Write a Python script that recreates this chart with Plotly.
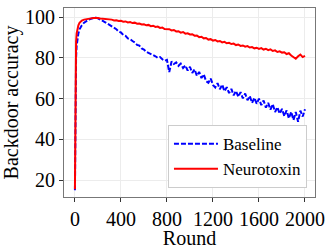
import plotly.graph_objects as go

rounds = [0, 3, 6, 10, 15, 20, 30, 40, 50, 60, 80] + list(range(100, 2001, 20))

neurotoxin = [15.5, 55, 80, 88, 92, 94, 96, 97.2, 97.8, 98.3, 98.8,
    99.1, 99.3, 99.4, 99.6, 99.7, 99.6, 99.4, 99.3, 99.0, 98.9,
    98.7, 98.8, 98.4, 98.5, 98.1, 98.2, 97.8, 97.9, 97.4, 97.6,
    97.1, 97.3, 96.8, 96.9, 96.4, 96.5, 96.0, 96.2, 95.6, 95.8,
    95.2, 95.4, 94.7, 94.9, 94.2, 94.0, 94.1, 93.5, 93.7, 93.0,
    93.1, 92.4, 92.7, 91.9, 92.1, 91.5, 91.6, 90.9, 91.0, 90.2,
    90.4, 89.6, 89.8, 89.0, 89.2, 88.5, 88.8, 88.1, 88.3, 87.6,
    87.9, 87.2, 87.4, 86.8, 87.0, 86.3, 86.6, 85.9, 86.1, 85.5,
    85.8, 85.1, 85.3, 84.7, 85.0, 84.4, 84.8, 84.1, 84.5, 83.8,
    84.2, 83.4, 83.7, 82.9, 83.2, 82.6, 82.8, 81.9, 82.3, 81.2,
    80.3, 79.6, 80.8, 81.6, 80.4, 81.0]

baseline = [15, 40, 68, 80, 86, 89, 92, 94, 95.2, 96, 97.3,
    98.2, 98.8, 99.2, 99.5, 99.8, 99.4, 98.9, 98.2, 97.6, 96.9,
    96.2, 95.6, 94.5, 94.1, 92.9, 92.5, 91.3, 90.8, 89.6, 89.2,
    88.3, 87.6, 86.4, 86.0, 84.6, 84.1, 83.0, 82.5, 82.0, 81.1,
    80.8, 80.0, 80.4, 79.3, 78.6, 79.0, 73.0, 78.2, 77.0, 77.8,
    76.1, 77.2, 75.0, 76.3, 73.8, 75.6, 72.6, 74.4, 71.2, 73.1,
    70.1, 71.9, 68.6, 67.8, 69.9, 66.7, 65.5, 67.6, 64.6, 66.9,
    63.6, 65.6, 62.7, 64.8, 61.6, 63.8, 60.9, 63.2, 60.1, 62.5,
    59.2, 61.3, 57.9, 60.4, 57.5, 60.0, 56.8, 59.1, 55.6, 57.9,
    54.6, 57.3, 53.4, 55.8, 52.6, 55.0, 51.4, 54.2, 50.3, 53.5,
    49.5, 53.4, 48.6, 54.1, 51.2, 54.8]

assert len(rounds) == len(neurotoxin) == len(baseline), (len(rounds), len(neurotoxin), len(baseline))

x_ticks = [0, 400, 800, 1200, 1600, 2000]
y_ticks = [20, 40, 60, 80, 100]

FONT = "Liberation Serif, Times New Roman, serif"

fig = go.Figure()
fig.add_trace(go.Scatter(x=rounds, y=baseline, mode="lines", name="Baseline",
                         line=dict(color="#0000ff", width=2, dash="5px,2px")))
fig.add_trace(go.Scatter(x=rounds, y=neurotoxin, mode="lines", name="Neurotoxin",
                         line=dict(color="#ff0000", width=2)))

axis_common = dict(showline=True, mirror=True, linecolor="#777777", linewidth=1.2,
                   showgrid=True, gridcolor="#ececec", gridwidth=1,
                   ticks="outside", ticklen=4, tickcolor="#333333", zeroline=False,
                   automargin=False,
                   tickfont=dict(family=FONT, size=20, color="black"))

fig.update_xaxes(range=[-95, 2087], tickvals=x_ticks, ticktext=[str(v) for v in x_ticks],
                 title=dict(text="Round", font=dict(family=FONT, size=20, color="black"), standoff=0),
                 **axis_common)
fig.update_yaxes(range=[11.7, 104.5], tickvals=y_ticks, ticktext=[str(v) for v in y_ticks],
                 title=dict(text="Backdoor accuracy", font=dict(family=FONT, size=20, color="black"), standoff=4),
                 **axis_common)

fig.update_layout(width=332, height=249, margin=dict(l=64, r=17, t=8, b=52),
                  plot_bgcolor="white", paper_bgcolor="white",
                  font=dict(family=FONT, color="black"),
                  legend=dict(x=0.968, y=0.047, xanchor="right", yanchor="bottom",
                              bgcolor="white", bordercolor="#cccccc", borderwidth=1,
                              font=dict(family=FONT, size=17, color="black"),
                              itemwidth=44, tracegroupgap=0))

fig.write_html("out.html", config={"displayModeBar": False},
               post_script="document.body.style.margin='0';document.body.style.overflow='hidden';")
